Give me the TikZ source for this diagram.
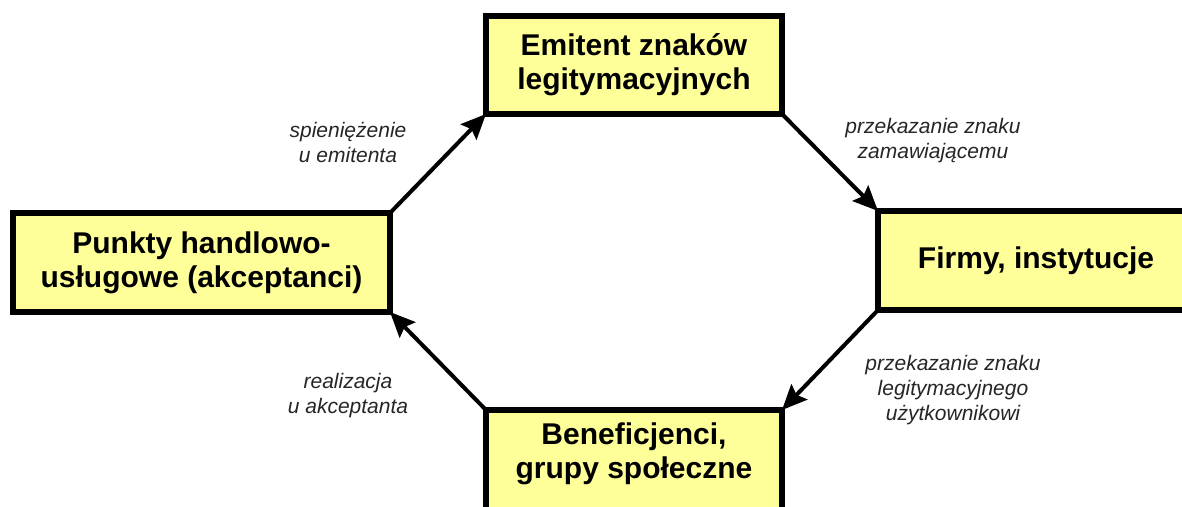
\documentclass[tikz,border=0pt]{standalone}
\usepackage{fontspec}
\setmainfont{Liberation Sans}
\usetikzlibrary{arrows.meta}
\definecolor{boxyellow}{HTML}{FFFF99}
\tikzset{
  box/.style={draw=black, line width=6pt, fill=boxyellow, inner sep=0pt, outer sep=0pt,
    align=center, font=\fontsize{30}{34}\selectfont\bfseries, text=black},
  boxtext/.style={inner sep=0pt, align=center, font=\fontsize{30}{34}\selectfont\bfseries, text=black},
  lbl/.style={inner sep=0pt, align=center, font=\fontsize{21}{25}\selectfont\itshape, text=black!85},
  flow/.style={line width=4pt, -{Stealth[length=25pt,width=22pt,inset=4pt]}}
}
\begin{document}
\begin{tikzpicture}[x=1pt,y=-1pt]
\useasboundingbox (0,0) rectangle (1182,506);
\clip (0,0) rectangle (1182,506);
\fill[white] (0,0) rectangle (1182,506);
\node[box, minimum width=296pt, minimum height=98pt] (top) at (634,65) {Emitent znaków\\legitymacyjnych};
\node[box, minimum width=377pt, minimum height=99pt] (left) at (201.5,262.5) {Punkty handlowo-\\usługowe (akceptanci)};
\node[box, minimum width=322pt, minimum height=99pt] (right) at (1039,260.5) {};
\node[boxtext] (righttxt) at (1036,261) {Firmy, instytucje};
\node[box, minimum width=296pt, minimum height=120pt] (bottom) at (634,470) {};
\node[boxtext] (bottomtxt) at (634,454) {Beneficjenci,\\grupy społeczne};
\draw[flow] (left.north east) -- (top.south west);
\draw[flow] (top.south east) -- (right.north west);
\draw[flow] (right.south west) -- (bottom.north east);
\draw[flow] (bottom.north west) -- (left.south east);
\node[lbl] (l1) at (348,142) {spieniężenie\\u emitenta};
\node[lbl] (l2) at (933,141) {przekazanie znaku\\zamawiającemu};
\node[lbl] (l3) at (953,390) {przekazanie znaku\\legitymacyjnego\\użytkownikowi};
\node[lbl] (l4) at (348,396) {realizacja\\u akceptanta};
\end{tikzpicture}
\end{document}
